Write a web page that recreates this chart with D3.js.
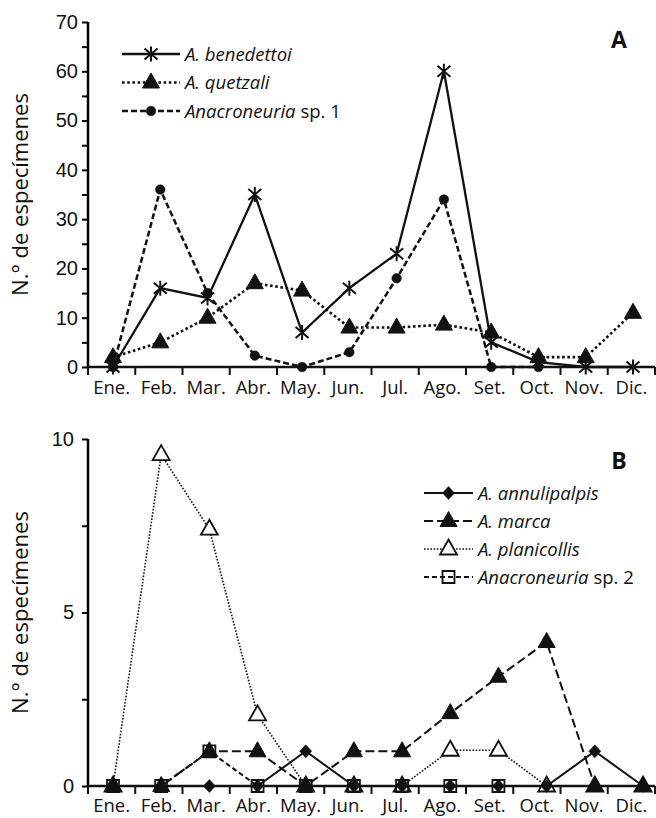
<!DOCTYPE html>
<meta charset="utf-8">
<script src="https://d3js.org/d3.v7.min.js"></script>
<style type="text/css">
body { margin: 0; background: #fff; }
svg { font-family: "Open Sans", sans-serif; }
</style>
<body>
</body>
<script>

// month labels shared by both panels
var months = ["Ene.", "Feb.", "Mar.", "Abr.", "May.", "Jun.", "Jul.", "Ago.", "Set.", "Oct.", "Nov.", "Dic."];

// panel A
var benedettoi = [0, 16, 14, 35, 7, 16, 23, 60, 5, 1, 0, 0];
var quetzali = [2, 5, 10, 17, 15.5, 8, 8, 8.6, 7, 2, 2, 11];
var anacroSp1 = [0, 36, 15, 2.3, 0, 3, 18, 34, 0, 0, null, null];
var ticksA = [0, 10, 20, 30, 40, 50, 60, 70];

// panel B
var annulipalpis = [0, 0, 0, 0, 1, 0, 0, 0, 0, 0, 1, 0];
var marca = [0, 0, 1, 1, 0, 1, 1, 2.1, 3.15, 4.15, 0, 0];
var planicollis = [0, 9.55, 7.4, 2.05, 0, 0, 0, 1.03, 1.03, 0, 0, 0];
var anacroSp2 = [0, 0, 1, 0, 0, 0, 0, 0, 0, null, null, null];
var ticksB = [0, 5, 10];

var width = 656, height = 818;

var svg = d3.select("body").append("svg")
    .attr("width", width)
    .attr("height", height);

// marker shapes
var shapes = {
  asterisk: "M0,-7.5L0,7.5M-6.5,-5.5L6.5,5.5M-6.5,5.5L6.5,-5.5",
  triangle: "M0,-9.5L8.5,5.5L-8.5,5.5Z",
  dot: "M-4.8,0A4.8,4.8 0 1,0 4.8,0A4.8,4.8 0 1,0 -4.8,0Z",
  diamond: "M0,-6.5L6,0L0,6.5L-6,0Z",
  openTri: "M0,-9.5L8.5,5.5L-8.5,5.5Z",
  square: "M-6,-6L6,-6L6,6L-6,6Z"
};

function markerStyle(sel, s) {
  sel.attr("d", shapes[s.shape])
    .attr("fill", s.fill)
    .attr("stroke", "#111")
    .attr("stroke-width", s.mw);
}

function drawPanel(cfg) {
  var g = svg.append("g");

  var x = d3.scaleBand().domain(months).range([88, 655]);
  var xp = d3.scalePoint().domain(months).range(cfg.pointRange);
  var y = d3.scaleLinear().domain([0, cfg.max]).range([cfg.y0, cfg.y1]);

  // y axis
  var yAxis = d3.axisLeft(y)
      .tickValues(cfg.minor)
      .tickSize(6)
      .tickFormat(function(d) { return cfg.ticks.indexOf(d) >= 0 ? d : ""; });
  var ya = g.append("g").attr("transform", "translate(88,0)").call(yAxis);
  ya.select(".domain").attr("stroke-width", 2.5).attr("d", "M0," + cfg.y0 + "V" + cfg.y1);
  ya.selectAll(".tick line").attr("stroke-width", 2);
  ya.selectAll(".tick text")
    .attr("x", -cfg.labelGap)
    .attr("font-size", 20)
    .attr("fill", "#111");

  // x axis, ticks between months
  var xa = g.append("g").attr("transform", "translate(0," + cfg.y0 + ")");
  xa.append("line").attr("x1", 88).attr("x2", 655)
    .attr("stroke", "#111").attr("stroke-width", 2.5);
  xa.selectAll(".xt").data(months.concat(["end"])).enter().append("line")
    .attr("x1", function(d, i) { return 88 + i * x.step(); })
    .attr("x2", function(d, i) { return 88 + i * x.step(); })
    .attr("y1", 0).attr("y2", 8)
    .attr("stroke", "#111").attr("stroke-width", 2);
  xa.selectAll(".xl").data(months).enter().append("text")
    .attr("x", function(d) { return x(d) + x.bandwidth() / 2; })
    .attr("y", cfg.xLabelY)
    .attr("text-anchor", "middle")
    .attr("font-size", 18.5)
    .attr("fill", "#111")
    .text(function(d) { return d; });

  // y title
  g.append("text")
    .attr("transform", "translate(" + 28 + "," + ((cfg.y0 + cfg.y1) / 2) + ") rotate(-90)")
    .attr("text-anchor", "middle")
    .attr("font-size", 22)
    .attr("fill", "#111")
    .text("N.° de especímenes");

  // panel letter
  g.append("text")
    .attr("x", 619).attr("y", cfg.letterY)
    .attr("text-anchor", "middle")
    .attr("font-size", 23)
    .attr("font-weight", "bold")
    .attr("fill", "#111")
    .text(cfg.letter);

  // series
  cfg.series.forEach(function(s) {
    var pts = s.values.map(function(v, i) { return { m: months[i], v: v }; })
      .filter(function(d) { return d.v != null; });
    var line = d3.line()
      .x(function(d) { return xp(d.m); })
      .y(function(d) { return y(d.v); });
    g.append("path")
      .datum(pts)
      .attr("d", line)
      .attr("fill", "none")
      .attr("stroke", "#111")
      .attr("stroke-width", s.lw)
      .attr("stroke-dasharray", s.dash);
    g.selectAll(".m" + s.shape).data(pts).enter().append("path")
      .attr("transform", function(d) { return "translate(" + xp(d.m) + "," + y(d.v) + ")"; })
      .call(markerStyle, s);
  });

  // legend (own order, not drawing order)
  var lg = g.append("g");
  cfg.legendOrder.forEach(function(k, i) {
    var s = cfg.series[k];
    var ly = cfg.legY + i * cfg.legStep;
    lg.append("line")
      .attr("x1", cfg.legX0).attr("x2", cfg.legX1)
      .attr("y1", ly).attr("y2", ly)
      .attr("stroke", "#111")
      .attr("stroke-width", s.lw)
      .attr("stroke-dasharray", s.dash);
    lg.append("path")
      .attr("transform", "translate(" + ((cfg.legX0 + cfg.legX1) / 2) + "," + ly + ")")
      .call(markerStyle, s);
    var t = lg.append("text")
      .attr("x", cfg.legX1 + 5).attr("y", ly + 6.5)
      .attr("font-size", 18.5)
      .attr("fill", "#111");
    t.append("tspan").attr("font-style", "italic").text(s.name);
    if (s.extra) t.append("tspan").text(s.extra);
  });
}

drawPanel({
  letter: "A", letterY: 48,
  max: 70, y0: 367, y1: 22,
  ticks: ticksA, minor: d3.range(0, 71, 5),
  labelGap: 10, xLabelY: 27,
  pointRange: [113, 633],
  legX0: 122, legX1: 180, legY: 54, legStep: 28.5,
  legendOrder: [0, 1, 2],
  series: [
    { name: "A. benedettoi", values: benedettoi, shape: "asterisk", fill: "none", mw: 2, lw: 2.3, dash: null },
    { name: "A. quetzali", values: quetzali, shape: "triangle", fill: "#111", mw: 1, lw: 2.6, dash: "2.6,2.6" },
    { name: "Anacroneuria", extra: " sp. 1", values: anacroSp1, shape: "dot", fill: "#111", mw: 0.5, lw: 2.5, dash: "6,3" }
  ]
});

drawPanel({
  letter: "B", letterY: 469,
  max: 10, y0: 786, y1: 439,
  ticks: ticksB, minor: [0, 2.5, 5, 7.5, 10],
  labelGap: 14, xLabelY: 26,
  pointRange: [113, 643],
  legX0: 424, legX1: 473, legY: 493, legStep: 28,
  legendOrder: [2, 3, 0, 1],
  series: [
    { name: "A. planicollis", values: planicollis, shape: "openTri", fill: "#fff", mw: 1.8, lw: 1.6, dash: "1.6,1.6" },
    { name: "Anacroneuria", extra: " sp. 2", values: anacroSp2, shape: "square", fill: "none", mw: 1.8, lw: 2, dash: "5,3" },
    { name: "A. annulipalpis", values: annulipalpis, shape: "diamond", fill: "#111", mw: 0.5, lw: 2, dash: null },
    { name: "A. marca", values: marca, shape: "triangle", fill: "#111", mw: 1, lw: 2, dash: "9,4" }
  ]
});

</script>
